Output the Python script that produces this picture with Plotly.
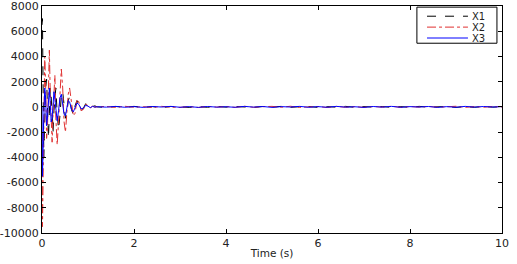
import plotly.graph_objects as go

t_early = [0, 0.01, 0.02, 0.03, 0.04, 0.05, 0.06, 0.08, 0.10, 0.12, 0.14, 0.16, 0.18, 0.20,
           0.22, 0.24, 0.26, 0.28, 0.30, 0.33, 0.36, 0.39, 0.42, 0.45, 0.48, 0.51, 0.54, 0.57,
           0.60, 0.64, 0.68, 0.72, 0.76, 0.80, 0.85, 0.90, 0.95, 1.0, 1.05, 1.1, 1.15, 1.2]
t_tail = [1.4, 1.6, 1.8, 2.0, 2.2, 2.4, 2.6, 2.8, 3.0, 3.2, 3.4, 3.6, 3.8, 4.0, 4.2, 4.4, 4.6,
          4.8, 5.0, 5.2, 5.4, 5.6, 5.8, 6.0, 6.2, 6.4, 6.6, 6.8, 7.0, 7.2, 7.4, 7.6, 7.8, 8.0,
          8.2, 8.4, 8.6, 8.8, 9.0, 9.2, 9.4, 9.6, 9.8, 10.0]
time = t_early + t_tail

x1_early = [6500, 7000, 3000, -2000, -4000, -2500, 0, 1500, 2200, -1000, -2500, -500, 1500, 800,
            -1500, -2000, -300, 1200, 1500, -500, -1800, -700, 900, 1200, 300, -900, -600, 500,
            800, -200, -600, 100, 500, 200, -300, -100, 250, 100, -100, 50, 80, 0]
x1_tail = [-40, 30, -20, 40, -30, 20, -50, 30, 10, -40, 20, -30, 40, -20, 30, -10, -40, 30, -20,
           40, -30, 10, 30, -40, 20, -20, 40, -30, 20, -10, 30, -40, 20, -30, 40, -20, 10, 30,
           -40, 20, -30, 30, -20, 10]

x2_early = [-2000, -9500, -7000, -4000, -1000, 2500, 4000, 1500, -2500, -1500, 3000, 4500, 1000,
            -2000, -2800, -500, 1800, 2500, -800, -3000, -1200, 1500, 3000, 1500, -1200, -2000,
            -500, 1000, 1500, 500, -700, -500, 600, 400, -300, -200, 200, 100, -80, 60, -30, 20]
x2_tail = [30, -40, 50, -30, 20, -50, 40, -20, -40, 30, -50, 40, -20, 30, -40, 50, -30, 20, 40,
           -30, 50, -40, -20, 30, -50, 40, -30, 20, -40, 30, -20, 50, -40, 30, -20, 40, -30, -20,
           50, -40, 30, -30, 40, -20]

x3_early = [0, -5500, -4000, -2000, -500, 800, 1500, 500, -1500, -800, 1000, 1500, 200, -1200,
            -900, 400, 1200, 600, -400, -1100, -300, 700, 1000, 300, -600, -700, 100, 500, 400,
            -200, -400, -50, 300, 200, -150, -100, 120, 60, -60, 40, -20, 10]
x3_tail = [-20, 40, -30, 20, -40, 30, -10, 40, -30, 20, -40, 30, -20, 10, -30, 40, -20, 30, -40,
           20, -10, 40, -30, 20, -30, 40, -20, 10, -40, 30, -20, 40, -30, 20, -10, 30, -40, 20,
           -30, 40, -20, 30, -10, 20]

y_ticks = [-10000, -8000, -6000, -4000, -2000, 0, 2000, 4000, 6000, 8000]
y_labels = ["-10000", "-8000", "-6000", "-4000", "-2000", "0", "2000", "4000", "6000", "8000"]
x_ticks = [0, 2, 4, 6, 8, 10]

series = [
    ("X1", x1_early + x1_tail, "black", "dash"),
    ("X2", x2_early + x2_tail, "#e03030", "dashdot"),
    ("X3", x3_early + x3_tail, "blue", "solid"),
]

fig = go.Figure()
for name, vals, col, dash in series:
    fig.add_trace(go.Scatter(x=time, y=vals, mode="lines", name=name,
                             line=dict(color=col, width=1, dash=dash)))

# Compact MATLAB-style legend drawn in paper coordinates
font = "DejaVu Sans"
fig.add_shape(type="rect", xref="paper", yref="paper", x0=0.815, x1=0.989, y0=0.836, y1=0.995,
              line=dict(color="black", width=1), fillcolor="white", layer="above")
row_y = [0.955, 0.907, 0.859]
for (name, _, col, dash), ry in zip(series, row_y):
    fig.add_shape(type="line", xref="paper", yref="paper", x0=0.837, x1=0.926, y0=ry, y1=ry,
                  line=dict(color=col, width=1, dash=dash), layer="above")
    fig.add_annotation(xref="paper", yref="paper", x=0.930, y=ry, text=name, showarrow=False,
                       xanchor="left", yanchor="middle",
                       font=dict(family=font, size=10, color="#222"))

axis_common = dict(showline=True, linecolor="black", linewidth=1, mirror="ticks",
                   ticks="inside", ticklen=4, tickcolor="black", showgrid=False,
                   zeroline=False, ticklabeloverflow="allow", automargin=False,
                   tickfont=dict(family=font, size=11, color="#222"))

fig.update_layout(
    width=517, height=264,
    margin=dict(l=42, r=15, t=6, b=31),
    plot_bgcolor="white", paper_bgcolor="white",
    xaxis=dict(range=[0, 10], tickvals=x_ticks,
               title=dict(text="Time (s)", font=dict(family=font, size=10.5, color="#222"), standoff=0),
               **axis_common),
    yaxis=dict(range=[-10000, 8000], tickvals=y_ticks, ticktext=y_labels, ticklabelstandoff=0,
               **axis_common),
    showlegend=False,
)

fig.write_html("out.html")
